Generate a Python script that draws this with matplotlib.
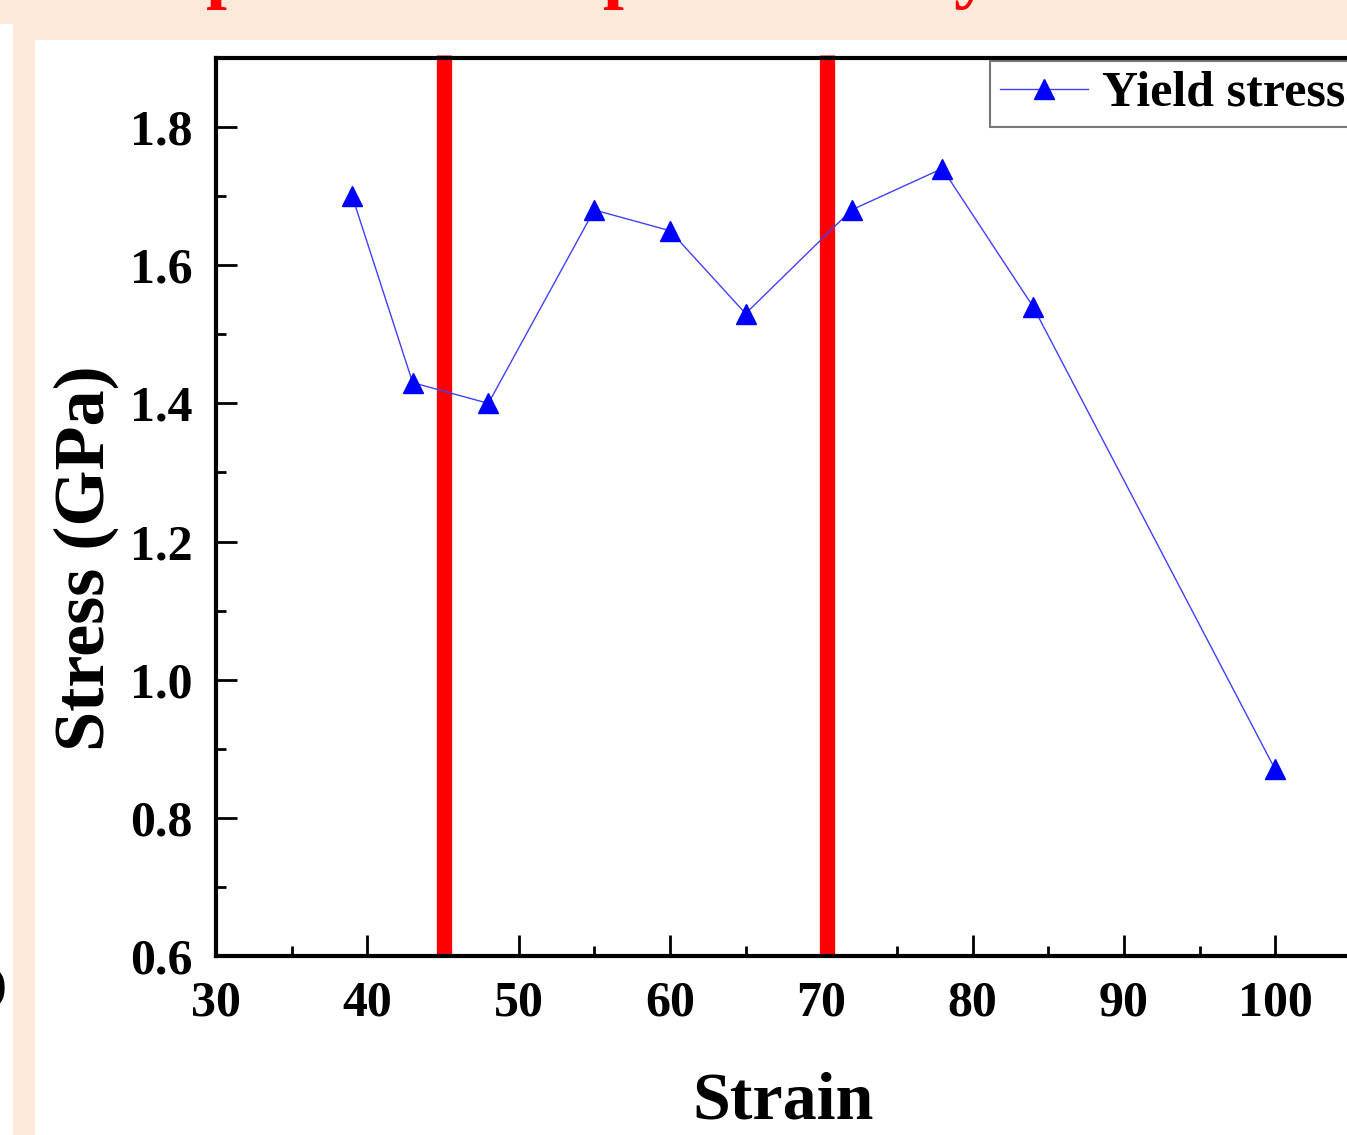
import matplotlib
matplotlib.use("Agg")
import matplotlib.pyplot as plt
import matplotlib.patches as patches
from matplotlib.ticker import MultipleLocator

# data
strain = [39, 43, 48, 55, 60, 65, 72, 78, 84, 100]
stress = [1.70, 1.43, 1.40, 1.68, 1.65, 1.53, 1.68, 1.74, 1.54, 0.87]
boundaries = [45.1, 70.4]
x_ticks = [30, 40, 50, 60, 70, 80, 90, 100]
y_ticks = [0.6, 0.8, 1.0, 1.2, 1.4, 1.6, 1.8]

W, H = 1347, 1135
plt.rcParams['font.family'] = ['Liberation Serif', 'DejaVu Serif']
plt.rcParams['font.weight'] = 'bold'

fig = plt.figure(figsize=(W / 100, H / 100), dpi=100)
fig.patch.set_facecolor('#FDEADB')

# white slide panels
fig.add_artist(patches.Rectangle((35 / W, 0), 1, 1 - 40 / H, transform=fig.transFigure,
                                 facecolor='white', edgecolor='none', zorder=0))
fig.add_artist(patches.Rectangle((0, 0), 13 / W, 1 - 24 / H, transform=fig.transFigure,
                                 facecolor='white', edgecolor='none', zorder=0))

# cut-off red title (only descenders show) and bracket on the left
for xp, ch in [(227, 'p'), (624, 'p'), (972, 'y')]:
    fig.text(xp / W, 1 + 6 / H, ch, color='red', fontsize=54, fontweight='bold',
             ha='center', va='baseline')
fig.text(6 / W, 1 - 988 / H, ')', fontsize=34, fontweight='bold', ha='right', va='center')

ax = fig.add_axes([216 / W, 1 - 956 / H, (1426.5 - 216) / W, (956 - 58) / H])
ax.set_facecolor('none')

ax.plot(strain, stress, color='#4040FF', linewidth=1, marker='^', markersize=15,
        markerfacecolor='#0000FF', markeredgecolor='#0000FF', label='Yield stress', zorder=3)

# red marks splitting the strain range
for b in boundaries:
    ax.plot([b, b], [0.6, 1.905], color='red', linewidth=11, solid_capstyle='butt',
            clip_on=False, zorder=2)

ax.set_xlim(30, 110)
ax.set_ylim(0.6, 1.9)
ax.set_xticks(x_ticks)
ax.set_yticks(y_ticks)
ax.set_yticklabels(['%.1f' % v for v in y_ticks])
ax.xaxis.set_minor_locator(MultipleLocator(5))
ax.yaxis.set_minor_locator(MultipleLocator(0.1))
ax.tick_params(which='both', direction='in', width=2, labelsize=36)
ax.tick_params(which='major', length=15)
ax.tick_params(which='minor', length=7)
ax.tick_params(axis='x', pad=18)
ax.tick_params(axis='y', pad=17)
for s in ax.spines.values():
    s.set_linewidth(3)

fig.text(783 / W, 1 - 1102 / H, 'Strain', fontsize=49, fontweight='bold', ha='center', va='center')
fig.text(86 / W, 1 - 558 / H, 'Stress (GPa)', fontsize=52, fontweight='bold', ha='center',
         va='center', rotation=90)

leg = ax.legend(loc='upper left', bbox_to_anchor=((990 - 216) / (1426.5 - 216), 1 - 3 / 898),
                fontsize=36, frameon=True, fancybox=False, borderaxespad=0,
                handlelength=1.75, handletextpad=0.3, borderpad=0.2)
leg.get_frame().set_edgecolor('#555555')
leg.get_frame().set_linewidth(1.5)

fig.savefig('out.png', dpi=100, facecolor=fig.get_facecolor())
